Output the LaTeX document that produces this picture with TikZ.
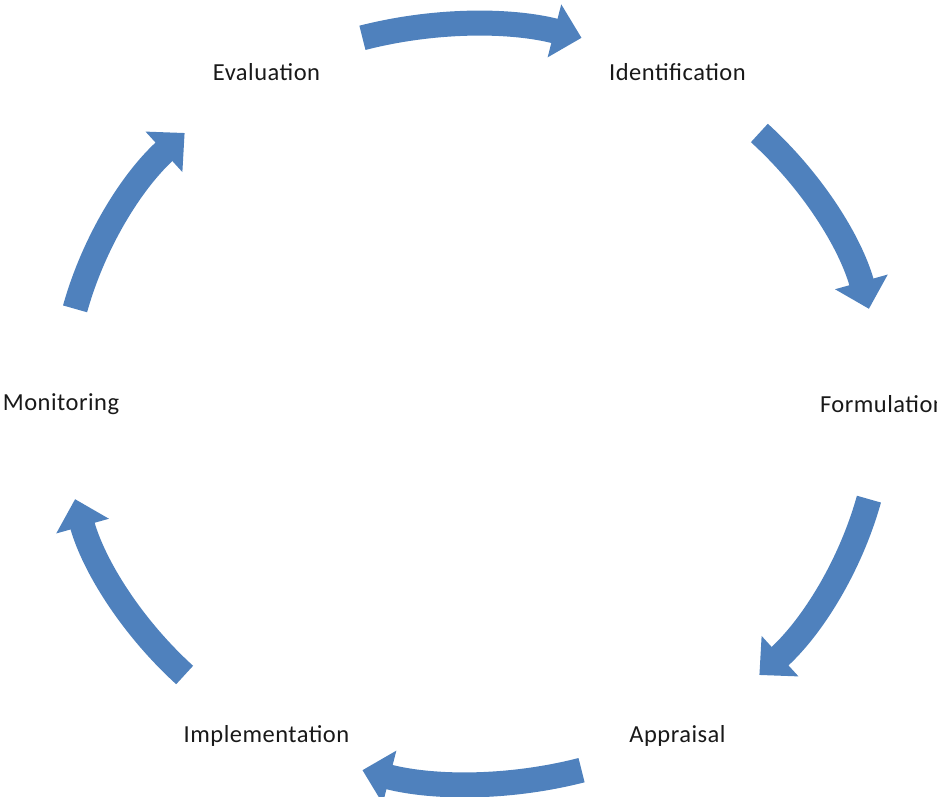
\documentclass[tikz,border=0pt]{standalone}
\usepackage{fontspec}
\setmainfont[LetterSpace=2]{Carlito}
\usetikzlibrary{arrows.meta}
\definecolor{cycleblue}{HTML}{4F81BD}
\begin{document}
\begin{tikzpicture}[x=1pt,y=1pt,line cap=butt]
		\useasboundingbox (-472,-393) rectangle (465,404);
		\foreach \st [count=\i] in {Identification,Formulation,Appraisal,Implementation,Monitoring,Evaluation}{
			\node[text=black!90,font=\fontsize{24.5}{29}\selectfont] (st\i) at (120-\i*60:411pt and 383pt) {\st};
			\draw[cycleblue,line width=25pt,-{Triangle[width=53pt,length=28pt]}] (165.5-\i*60:410pt and 380pt) arc[start angle=165.5-\i*60,end angle=134.5-\i*60,x radius=410pt,y radius=380pt];}
\end{tikzpicture}
\end{document}
